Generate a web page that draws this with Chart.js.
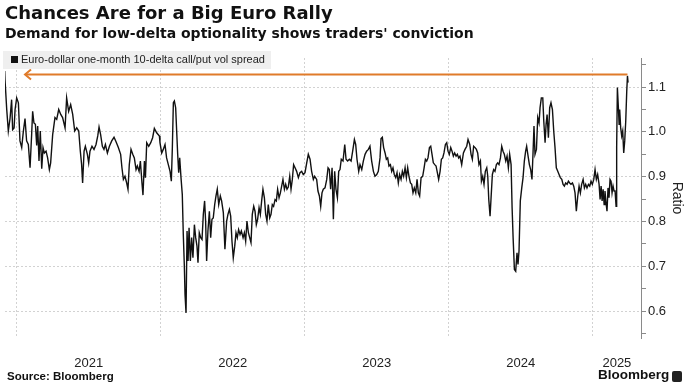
<!DOCTYPE html>
<html>
<head>
<meta charset="utf-8">
<script src="https://cdn.jsdelivr.net/npm/chart.js@4"></script>
<style>
  body { margin: 0; background: #fff; }
  #wrap { position: relative; width: 691px; height: 391px; overflow: hidden; }
  #chart { position: absolute; left: 0; top: 0; }
  .txt { position: absolute; white-space: nowrap; color: #111; }
  #title { left: 5px; top: 2px; font: bold 18px "DejaVu Sans"; }
  #subtitle { left: 5px; top: 25px; font: bold 14px "DejaVu Sans"; }
  #legend { left: 3px; top: 51px; width: 268px; height: 18px; background: #efefef; }
  #legend .box { position: absolute; left: 8px; top: 5px; width: 7px; height: 7px; background: #111; }
  #legend .lbl { position: absolute; left: 18px; top: 2px; font: 11px "Liberation Sans"; color: #222; }
  #source { left: 7px; top: 370px; font: bold 11.5px "Liberation Sans"; }
  #logo { left: 598px; top: 367px; font: bold 13.5px "Liberation Sans"; }
  #icon { position: absolute; left: 672px; top: 371px; width: 10px; height: 11px; background: #222; border-radius: 2px; }
</style>
</head>
<body>
<div id="wrap">
  <canvas id="chart" width="691" height="391"></canvas>
  <div class="txt" id="title">Chances Are for a Big Euro Rally</div>
  <div class="txt" id="subtitle">Demand for low-delta optionality shows traders' conviction</div>
  <div class="txt" id="legend"><span class="box"></span><span class="lbl">Euro-dollar one-month 10-delta call/put vol spread</span></div>
  <div class="txt" id="source">Source: Bloomberg</div>
  <div class="txt" id="logo">Bloomberg</div>
  <div id="icon"></div>
</div>
<script>
// dates are fractional years, values are the call/put vol ratio
var dates2021 = [2020.917, 2020.919, 2020.931, 2020.942, 2020.954, 2020.965, 2020.972, 2020.982, 2020.989,
    2021.000, 2021.012, 2021.023, 2021.035, 2021.046, 2021.058, 2021.069, 2021.081, 2021.093, 2021.104,
    2021.111, 2021.120, 2021.130, 2021.139, 2021.146, 2021.155, 2021.164, 2021.174, 2021.183, 2021.192,
    2021.204, 2021.215, 2021.227, 2021.236, 2021.250, 2021.266, 2021.278, 2021.292, 2021.306, 2021.319,
    2021.336, 2021.347, 2021.361, 2021.375, 2021.389, 2021.403, 2021.417, 2021.431, 2021.442, 2021.451,
    2021.458, 2021.468, 2021.477, 2021.491, 2021.500, 2021.509, 2021.523, 2021.537, 2021.551, 2021.563,
    2021.572, 2021.583, 2021.595, 2021.606, 2021.616, 2021.630, 2021.644, 2021.660, 2021.676, 2021.690,
    2021.706, 2021.722, 2021.731, 2021.741, 2021.752, 2021.764, 2021.773, 2021.782, 2021.794, 2021.806,
    2021.817, 2021.829, 2021.838, 2021.850, 2021.859, 2021.870, 2021.877, 2021.887, 2021.894, 2021.903,
    2021.917, 2021.931, 2021.944, 2021.956, 2021.972, 2021.991];
var ratio2021 = [1.136, 1.117, 1.050, 1.002, 1.030, 1.072, 1.005, 1.009, 1.050,
    1.076, 1.065, 0.980, 0.965, 1.000, 1.030, 0.980, 0.972, 0.920, 0.994,
    1.046, 1.020, 1.017, 0.970, 1.013, 0.935, 1.002, 0.918, 0.965, 0.953,
    0.957, 0.942, 0.916, 0.931, 0.994, 1.032, 1.028, 1.050, 1.039, 1.032,
    1.009, 1.076, 1.046, 1.061, 1.039, 1.002, 1.009, 1.002, 0.957, 0.927,
    0.886, 0.957, 0.968, 0.950, 0.931, 0.957, 0.968, 0.961, 0.972, 0.991,
    1.011, 0.994, 0.968, 0.961, 0.972, 0.953, 0.968, 0.980, 0.988, 0.978,
    0.965, 0.950, 0.920, 0.894, 0.901, 0.886, 0.872, 0.927, 0.961, 0.950,
    0.942, 0.916, 0.924, 0.912, 0.935, 0.886, 0.859, 0.935, 0.898, 0.976,
    0.968, 0.976, 0.987, 1.008, 0.998, 0.991];

var dates2022 = [2021.995, 2022.007, 2022.018, 2022.030, 2022.041, 2022.053, 2022.065, 2022.074, 2022.081,
    2022.088, 2022.095, 2022.104, 2022.111, 2022.118, 2022.125, 2022.132, 2022.141, 2022.150, 2022.157,
    2022.164, 2022.169, 2022.176, 2022.183, 2022.190, 2022.197, 2022.206, 2022.215, 2022.224, 2022.234,
    2022.243, 2022.252, 2022.259, 2022.268, 2022.278, 2022.287, 2022.296, 2022.305, 2022.312, 2022.319,
    2022.328, 2022.338, 2022.347, 2022.356, 2022.365, 2022.375, 2022.384, 2022.393, 2022.403, 2022.414,
    2022.423, 2022.435, 2022.446, 2022.458, 2022.467, 2022.477, 2022.486, 2022.495, 2022.504, 2022.514,
    2022.523, 2022.532, 2022.541, 2022.551, 2022.560, 2022.572, 2022.581, 2022.590, 2022.599, 2022.609,
    2022.618, 2022.627, 2022.636, 2022.646, 2022.655, 2022.664, 2022.673, 2022.683, 2022.692, 2022.701,
    2022.710, 2022.720, 2022.729, 2022.738, 2022.747, 2022.757, 2022.766, 2022.775, 2022.784, 2022.794,
    2022.803, 2022.812, 2022.822, 2022.831, 2022.840, 2022.849, 2022.859, 2022.868, 2022.877, 2022.886,
    2022.896, 2022.905, 2022.914, 2022.923, 2022.933, 2022.944, 2022.956, 2022.967, 2022.979, 2022.990];
var ratio2022 = [0.976, 0.953, 0.961, 0.972, 0.942, 0.927, 0.912, 0.890, 0.965,
    1.065, 1.069, 1.054, 1.002, 0.950, 0.909, 0.942, 0.898, 0.860, 0.771,
    0.704, 0.637, 0.596, 0.779, 0.712, 0.786, 0.712, 0.764, 0.719, 0.793,
    0.764, 0.745, 0.708, 0.775, 0.764, 0.760, 0.816, 0.846, 0.801, 0.712,
    0.779, 0.823, 0.764, 0.805, 0.808, 0.838, 0.857, 0.872, 0.838, 0.857,
    0.846, 0.820, 0.738, 0.801, 0.816, 0.827, 0.812, 0.756, 0.719, 0.745,
    0.775, 0.764, 0.782, 0.771, 0.779, 0.764, 0.775, 0.756, 0.801, 0.775,
    0.764, 0.753, 0.816, 0.834, 0.823, 0.793, 0.805, 0.831, 0.816, 0.846,
    0.872, 0.853, 0.816, 0.801, 0.838, 0.808, 0.816, 0.838, 0.834, 0.849,
    0.846, 0.872, 0.853, 0.864, 0.879, 0.894, 0.872, 0.883, 0.872, 0.877,
    0.901, 0.872, 0.894, 0.927, 0.920, 0.912, 0.898, 0.909, 0.912, 0.905];

var dates2023 = [2023.002, 2023.014, 2023.025, 2023.037, 2023.048, 2023.060, 2023.069, 2023.083, 2023.092,
    2023.102, 2023.111, 2023.120, 2023.129, 2023.141, 2023.153, 2023.162, 2023.171, 2023.180, 2023.190,
    2023.199, 2023.208, 2023.217, 2023.227, 2023.236, 2023.245, 2023.254, 2023.266, 2023.278, 2023.287,
    2023.298, 2023.310, 2023.322, 2023.333, 2023.345, 2023.354, 2023.363, 2023.375, 2023.384, 2023.396,
    2023.407, 2023.419, 2023.430, 2023.442, 2023.453, 2023.465, 2023.477, 2023.488, 2023.500, 2023.511,
    2023.523, 2023.530, 2023.539, 2023.548, 2023.558, 2023.567, 2023.576, 2023.585, 2023.595, 2023.604,
    2023.613, 2023.622, 2023.632, 2023.641, 2023.650, 2023.659, 2023.669, 2023.678, 2023.687, 2023.697,
    2023.706, 2023.715, 2023.724, 2023.734, 2023.743, 2023.752, 2023.761, 2023.771, 2023.780, 2023.789,
    2023.798, 2023.808, 2023.819, 2023.829, 2023.838, 2023.847, 2023.856, 2023.866, 2023.875, 2023.884,
    2023.893, 2023.903, 2023.912, 2023.921, 2023.930, 2023.940, 2023.949, 2023.958, 2023.967, 2023.977,
    2023.986, 2023.995];
var ratio2023 = [0.909, 0.931, 0.950, 0.939, 0.912, 0.894, 0.901, 0.894, 0.868,
    0.857, 0.834, 0.864, 0.872, 0.875, 0.894, 0.920, 0.916, 0.872, 0.920,
    0.805, 0.912, 0.872, 0.853, 0.912, 0.916, 0.939, 0.935, 0.972, 0.939,
    0.935, 0.939, 0.935, 0.957, 0.983, 0.972, 0.939, 0.912, 0.927, 0.916,
    0.935, 0.950, 0.957, 0.961, 0.968, 0.935, 0.912, 0.901, 0.905, 0.912,
    0.942, 0.985, 0.988, 0.965, 0.953, 0.939, 0.942, 0.924, 0.927, 0.912,
    0.920, 0.905, 0.898, 0.909, 0.886, 0.905, 0.894, 0.912, 0.901, 0.920,
    0.898, 0.920, 0.901, 0.886, 0.883, 0.864, 0.875, 0.864, 0.894, 0.864,
    0.857, 0.898, 0.901, 0.920, 0.939, 0.935, 0.942, 0.965, 0.968, 0.950,
    0.931, 0.927, 0.924, 0.909, 0.894, 0.912, 0.939, 0.942, 0.953, 0.972,
    0.976, 0.957];

var dates2024 = [2024.004, 2024.014, 2024.023, 2024.032, 2024.041, 2024.051, 2024.060, 2024.069, 2024.078,
    2024.090, 2024.102, 2024.113, 2024.125, 2024.134, 2024.146, 2024.155, 2024.164, 2024.173, 2024.183,
    2024.192, 2024.201, 2024.210, 2024.220, 2024.227, 2024.236, 2024.245, 2024.254, 2024.264, 2024.271,
    2024.278, 2024.287, 2024.294, 2024.303, 2024.312, 2024.321, 2024.331, 2024.340, 2024.349, 2024.359,
    2024.368, 2024.377, 2024.386, 2024.396, 2024.405, 2024.414, 2024.423, 2024.433, 2024.440, 2024.447,
    2024.456, 2024.465, 2024.474, 2024.481, 2024.488, 2024.497, 2024.507, 2024.516, 2024.525, 2024.534,
    2024.541, 2024.551, 2024.560, 2024.569, 2024.578, 2024.585, 2024.592, 2024.599, 2024.609, 2024.618,
    2024.627, 2024.634, 2024.643, 2024.653, 2024.660, 2024.669, 2024.676, 2024.683, 2024.692, 2024.701,
    2024.710, 2024.720, 2024.729, 2024.738, 2024.747, 2024.757, 2024.766, 2024.775, 2024.785, 2024.794,
    2024.803, 2024.812, 2024.822, 2024.831, 2024.840, 2024.849, 2024.859, 2024.868, 2024.877, 2024.886,
    2024.896, 2024.905, 2024.914, 2024.923, 2024.933, 2024.942, 2024.951, 2024.960, 2024.970, 2024.979,
    2024.988, 2024.997];
var ratio2024 = [0.950, 0.965, 0.957, 0.946, 0.953, 0.946, 0.950, 0.942, 0.946,
    0.927, 0.953, 0.961, 0.968, 0.983, 0.972, 0.950, 0.939, 0.968, 0.965,
    0.961, 0.953, 0.927, 0.935, 0.890, 0.901, 0.883, 0.912, 0.920, 0.901,
    0.849, 0.812, 0.853, 0.905, 0.916, 0.912, 0.927, 0.931, 0.927, 0.942,
    0.968, 0.957, 0.950, 0.935, 0.946, 0.920, 0.950, 0.927, 0.831, 0.764,
    0.693, 0.689, 0.730, 0.704, 0.734, 0.846, 0.875, 0.898, 0.935, 0.957,
    0.968, 0.946, 0.927, 0.916, 0.894, 0.950, 1.013, 0.950, 0.961, 1.032,
    1.020, 1.054, 1.076, 1.076, 1.024, 0.976, 1.017, 1.039, 0.987, 1.054,
    1.065, 1.050, 1.002, 0.965, 0.920, 0.912, 0.905, 0.898, 0.894, 0.883,
    0.879, 0.886, 0.883, 0.890, 0.886, 0.883, 0.886, 0.879, 0.864, 0.823,
    0.857, 0.879, 0.864, 0.883, 0.894, 0.875, 0.883, 0.875, 0.883, 0.879,
    0.890, 0.883];

var dates2025 = [2025.007, 2025.016, 2025.025, 2025.034, 2025.044, 2025.051, 2025.058, 2025.065, 2025.072,
    2025.079, 2025.085, 2025.092, 2025.099, 2025.106, 2025.113, 2025.120, 2025.127, 2025.134, 2025.141,
    2025.148, 2025.155, 2025.162, 2025.166, 2025.171, 2025.178, 2025.183, 2025.187, 2025.194, 2025.201,
    2025.208, 2025.215, 2025.222, 2025.229, 2025.236, 2025.241, 2025.245];
var ratio2025 = [0.894, 0.916, 0.894, 0.905, 0.883, 0.849, 0.879, 0.846, 0.872,
    0.838, 0.868, 0.842, 0.823, 0.875, 0.853, 0.894, 0.890, 0.864, 0.879,
    0.868, 0.868, 0.834, 0.965, 1.099, 1.054, 1.017, 1.050, 1.009, 0.991,
    1.002, 0.953, 0.980, 1.024, 1.091, 1.125, 1.110];

// orange arrow: latest level drawn back to the start of the window
var arrowLevel = 1.128;
var arrowStart = 2021.058;
var arrowEnd = 2025.241;

var yearLabels = ['2021', '2022', '2023', '2024', '2025'];
var yearStarts = [2021, 2022, 2023, 2024, 2025];
var xMin = 2020.919, xMax = 2025.335;

var points = [];
[[dates2021, ratio2021], [dates2022, ratio2022], [dates2023, ratio2023],
 [dates2024, ratio2024], [dates2025, ratio2025]].forEach(function (pair) {
    for (var i = 0; i < pair[0].length; i++) {
        points.push({ x: pair[0][i], y: pair[1][i] });
    }
});

// label sits in the middle of each year's visible span
var labelPositions = yearStarts.map(function (y) {
    return (Math.max(y, xMin) + Math.min(y + 1, xMax)) / 2;
});

function isMajor(v) {
    return Math.abs(v * 10 - Math.round(v * 10)) < 1e-6;
}

var arrowHead = {
    id: 'arrowHead',
    afterDatasetsDraw: function (chart) {
        var ctx = chart.ctx;
        var x = chart.scales.x.getPixelForValue(arrowStart);
        var y = chart.scales.y.getPixelForValue(arrowLevel);
        ctx.save();
        ctx.strokeStyle = '#e07b2a';
        ctx.lineWidth = 2;
        ctx.beginPath();
        ctx.moveTo(x + 6, y - 5);
        ctx.lineTo(x, y);
        ctx.lineTo(x + 6, y + 5);
        ctx.stroke();
        ctx.restore();
    }
};

var ctx = document.getElementById('chart').getContext('2d');
new Chart(ctx, {
    type: 'line',
    data: {
        datasets: [{
            data: points,
            borderColor: '#111',
            borderWidth: 1.4,
            pointRadius: 0,
            tension: 0
        }, {
            data: [{ x: arrowStart, y: arrowLevel }, { x: arrowEnd, y: arrowLevel }],
            borderColor: '#e07b2a',
            borderWidth: 2,
            pointRadius: 0
        }]
    },
    options: {
        responsive: false,
        animation: false,
        devicePixelRatio: 1,
        layout: { padding: { left: 5, top: 58, right: 0, bottom: 0 } },
        plugins: {
            legend: { display: false },
            tooltip: { enabled: false }
        },
        scales: {
            x: {
                type: 'linear',
                min: xMin,
                max: xMax,
                afterBuildTicks: function (scale) {
                    scale.ticks = yearStarts.map(function (v) { return { value: v }; });
                },
                afterFit: function (scale) { scale.height = 0; },
                ticks: { display: false },
                grid: { color: '#d2d2d2', drawTicks: false, lineWidth: 1 },
                border: { display: false, dash: [2, 2] }
            },
            xLabels: {
                type: 'linear',
                position: 'bottom',
                min: xMin,
                max: xMax,
                afterBuildTicks: function (scale) {
                    scale.ticks = labelPositions.map(function (v) { return { value: v }; });
                },
                afterFit: function (scale) { scale.height = 53; },
                ticks: {
                    padding: 18,
                    maxRotation: 0,
                    autoSkip: false,
                    color: '#222',
                    font: { family: 'Liberation Sans', size: 13 },
                    callback: function (value, index) { return yearLabels[index]; }
                },
                grid: { display: false, drawTicks: false },
                border: { display: false }
            },
            y: {
                position: 'right',
                min: 0.54,
                max: 1.165,
                afterBuildTicks: function (scale) {
                    var t = [];
                    for (var i = 11; i <= 23; i++) t.push({ value: i / 20 });
                    scale.ticks = t;
                },
                afterFit: function (scale) { scale.width = 50; },
                ticks: {
                    padding: 2,
                    color: '#222',
                    font: { family: 'Liberation Sans', size: 13 },
                    callback: function (value) { return isMajor(value) ? value.toFixed(1) : ''; }
                },
                grid: {
                    color: function (c) { return isMajor(c.tick.value) ? '#d2d2d2' : 'transparent'; },
                    tickColor: '#8a8a8a',
                    tickLength: 5,
                    lineWidth: 1
                },
                border: { display: true, color: '#8a8a8a', width: 1, dash: [2, 2] },
                title: {
                    display: true,
                    text: 'Ratio',
                    color: '#222',
                    font: { family: 'Liberation Sans', size: 14 },
                    padding: { top: 6, bottom: 0 }
                }
            }
        }
    },
    plugins: [arrowHead]
});
</script>
</body>
</html>
